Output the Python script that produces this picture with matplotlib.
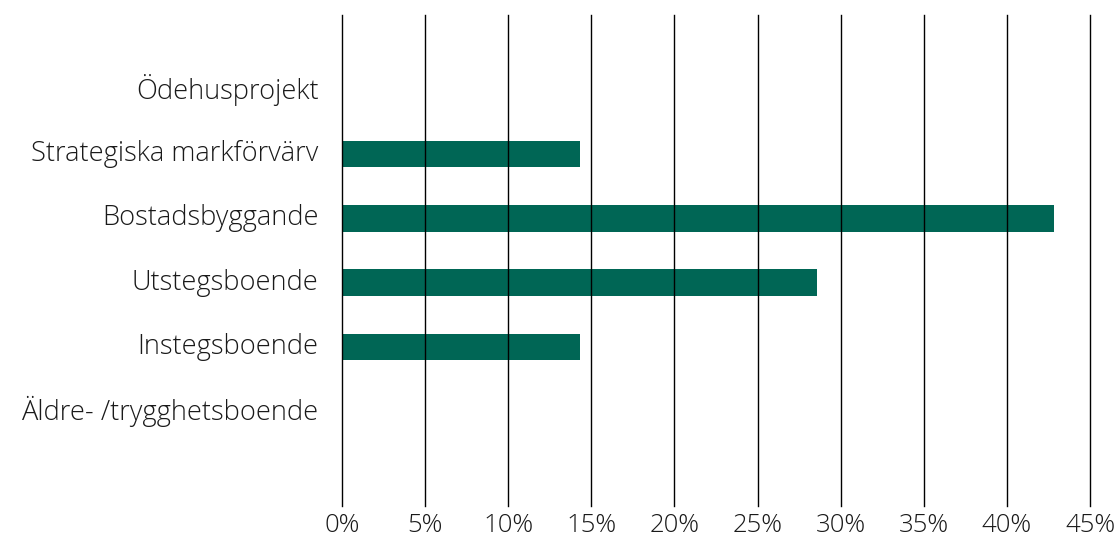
import matplotlib
matplotlib.use("Agg")
import matplotlib.pyplot as plt
from matplotlib.ticker import FuncFormatter
from matplotlib.transforms import ScaledTranslation

categories = ["Ödehusprojekt", "Strategiska markförvärv", "Bostadsbyggande",
              "Utstegsboende", "Instegsboende", "Äldre- /trygghetsboende"]
values = [0.0, 14.29, 42.86, 28.57, 14.29, 0.0]
xticks = [0, 5, 10, 15, 20, 25, 30, 35, 40, 45]

plt.rcParams['font.family'] = ['Open Sans', 'DejaVu Sans']

fig = plt.figure(figsize=(11.16, 5.41), dpi=100)
ax = fig.add_axes([342/1116, 1-506/541, (1090-342)/1116, (506-15)/541])

ypos = list(range(len(categories)))
ax.barh(ypos, values, height=0.415, color="#006655", zorder=1)

ax.set_xlim(0, 45)
ax.set_ylim(6.47, -1.16)
ax.set_xticks(xticks)
ax.xaxis.set_major_formatter(FuncFormatter(lambda v, p: f"{int(v)}%"))
ax.set_yticks(ypos)
ax.set_yticklabels(categories)
for x in xticks:
    ax.axvline(x, color="black", lw=1.0, zorder=2, clip_on=False)
for s in ax.spines.values():
    s.set_visible(False)
ax.tick_params(axis='y', length=0, pad=17, labelsize=19.6, labelcolor="#1a1a1a")
ax.tick_params(axis='x', length=0, pad=5, labelsize=18.5, labelcolor="#1a1a1a")
for lab in ax.get_xticklabels() + ax.get_yticklabels():
    lab.set_fontweight("light")
shift = ScaledTranslation(0, 3.5/100, fig.dpi_scale_trans)
for lab in ax.get_yticklabels():
    lab.set_transform(lab.get_transform() + shift)

fig.savefig("out.png", dpi=100)
